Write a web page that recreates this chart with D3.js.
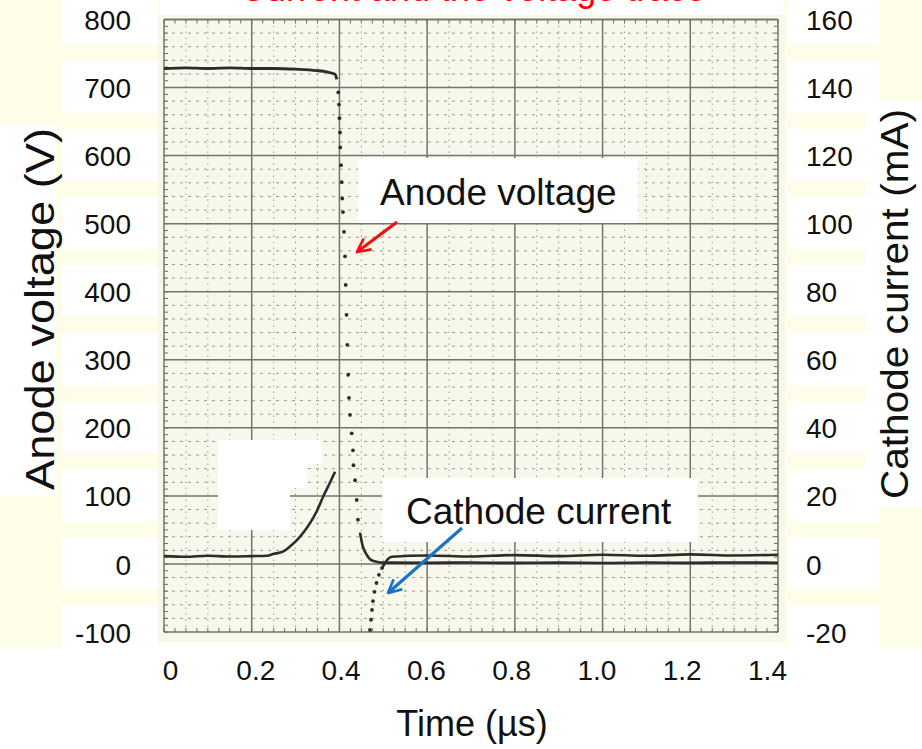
<!DOCTYPE html>
<html>
<head>
<meta charset="utf-8">
<script src="https://cdn.jsdelivr.net/npm/d3@7"></script>
<style>
  html, body { margin: 0; padding: 0; background: #ffffff; }
  svg { display: block; }
  text { font-family: "Liberation Sans", Arial, Helvetica, sans-serif; }
</style>
</head>
<body>
<svg id="chart" width="922" height="749"></svg>
<script>
// ---------- data ----------
const timeTicks = [0, 0.2, 0.4, 0.6, 0.8, 1.0, 1.2, 1.4];          // µs
const voltTicks = [-100, 0, 100, 200, 300, 400, 500, 600, 700, 800]; // V
const currTicks = [-20, 0, 20, 40, 60, 80, 100, 120, 140, 160];      // mA

// Anode voltage (V): flat top before switching
const anodeTop = [
  [0, 728], [0.05, 729], [0.1, 728], [0.15, 729], [0.2, 728], [0.25, 728],
  [0.3, 727], [0.348, 725], [0.371, 723], [0.390, 719.5], [0.394, 712]
];
// Anode voltage (V): fast fall, individual scope samples
const anodeFall = [
  [0.3974, 693], [0.3990, 675], [0.4001, 655], [0.4013, 634], [0.4020, 612],
  [0.4036, 586], [0.4052, 561], [0.4065, 537], [0.4081, 517], [0.4104, 488],
  [0.4127, 452], [0.4143, 410], [0.4161, 366], [0.4179, 322], [0.4200, 278],
  [0.4218, 244], [0.4241, 219], [0.4280, 192], [0.4309, 167], [0.4321, 145],
  [0.4355, 123], [0.4394, 94], [0.4423, 65]
];
// Anode voltage (V): settling tail and on-state level
const anodeTail = [
  [0.4469, 46], [0.4537, 25], [0.4606, 15], [0.4697, 7], [0.48, 4], [0.49, 2.5],
  [0.5, 2], [0.6, 1.6], [0.7, 2.2], [0.8, 1.5], [0.9, 2.0], [1.0, 1.4],
  [1.1, 2.1], [1.2, 1.6], [1.3, 2.2], [1.4, 1.8]
];

// Cathode current (mA): idle level and rise
const cathodeRise = [
  [0, 2.3], [0.05, 2.1], [0.1, 2.4], [0.15, 2.2], [0.2, 2.3], [0.235, 2.4],
  [0.249, 2.9], [0.271, 3.6], [0.287, 5.1], [0.303, 7.0], [0.317, 9.1],
  [0.333, 12.0], [0.348, 15.4], [0.363, 19.8], [0.378, 23.8], [0.390, 27.1]
];
// Cathode current (mA): recovery from negative overshoot, scope samples
const cathodeDip = [
  [0.4697, -19.4], [0.4720, -16.4], [0.4742, -13.5], [0.4765, -10.9],
  [0.4800, -8.2], [0.4845, -5.6], [0.4900, -3.2], [0.4970, -1.2]
];
// Cathode current (mA): after switching
const cathodeTail = [
  [0.497, -1.2], [0.504, 0.3], [0.511, 1.5], [0.52, 2.1], [0.6, 2.5], [0.7, 2.2],
  [0.8, 2.6], [0.9, 2.3], [1.0, 2.7], [1.1, 2.4], [1.2, 2.8], [1.3, 2.5], [1.4, 2.7]
];

// ---------- layout ----------
const svg = d3.select("#chart");
const W = 922, H = 749;
const plot = { left: 164, right: 778, top: 19.5, bottom: 632 };

const x = d3.scaleLinear().domain([0, 1.4]).range([plot.left, plot.right]);
const yV = d3.scaleLinear().domain([-100, 800]).range([plot.bottom, plot.top]);
const yI = d3.scaleLinear().domain([-20, 160]).range([plot.bottom, plot.top]);
// time labels are typed slightly inside the graticule
const xLab = d3.scaleLinear().domain([0, 1.4]).range([170, 767]);

const FONT = "'Liberation Sans', Arial, sans-serif";

// page background: pale slide colour with white label patches
svg.append("rect").attr("x", 0).attr("y", 0).attr("width", W).attr("height", H).attr("fill", "#ffffff");
svg.append("rect").attr("x", 0).attr("y", 0).attr("width", 160).attr("height", 648).attr("fill", "#fdfde8");
svg.append("rect").attr("x", 783).attr("y", 0).attr("width", 139).attr("height", 648).attr("fill", "#fdfde8");

// title (runs off the top edge of the slide)
svg.append("text")
  .attr("x", 240).attr("y", 1)
  .attr("font-size", 36).attr("fill", "#ff0000")
  .text("Current and the voltage trace");

// scanned graticule paper
svg.append("rect")
  .attr("x", 158).attr("y", 15).attr("width", 627).attr("height", 627)
  .attr("fill", "#f7f7eb");

const grid = svg.append("g");

// minor vertical lines every 0.05 µs
const minorT = d3.range(0, 1.4001, 0.05).filter(t => Math.abs(t / 0.2 - Math.round(t / 0.2)) > 1e-6);
grid.selectAll(".vmin").data(minorT).join("line")
  .attr("x1", d => x(d)).attr("x2", d => x(d))
  .attr("y1", plot.top).attr("y2", plot.bottom)
  .attr("stroke", "#9a9a90").attr("stroke-width", 1).attr("stroke-dasharray", "1.5 4.5");

// minor horizontal lines every 20 V
const minorV = d3.range(-100, 800.001, 20).filter(v => v % 100 !== 0);
grid.selectAll(".hmin").data(minorV).join("line")
  .attr("x1", plot.left).attr("x2", plot.right)
  .attr("y1", d => yV(d)).attr("y2", d => yV(d))
  .attr("stroke", "#9a9a90").attr("stroke-width", 1).attr("stroke-dasharray", "3 5");

// major lines
grid.selectAll(".vmaj").data(timeTicks).join("line")
  .attr("x1", d => x(d)).attr("x2", d => x(d))
  .attr("y1", plot.top).attr("y2", plot.bottom)
  .attr("stroke", "#74746f").attr("stroke-width", 1.5);
grid.selectAll(".hmaj").data(voltTicks.concat([800])).join("line")
  .attr("x1", plot.left).attr("x2", plot.right)
  .attr("y1", d => yV(d)).attr("y2", d => yV(d))
  .attr("stroke", "#74746f").attr("stroke-width", 1.5);

// border ticks
const edgeT = d3.range(0, 1.4001, 0.025);
const edgeV = d3.range(-100, 800.001, 10);
grid.selectAll(".tt").data(edgeT).join("line")
  .attr("x1", d => x(d)).attr("x2", d => x(d))
  .attr("y1", plot.top).attr("y2", plot.top + 4)
  .attr("stroke", "#6d6d68").attr("stroke-width", 1);
grid.selectAll(".tb").data(edgeT).join("line")
  .attr("x1", d => x(d)).attr("x2", d => x(d))
  .attr("y1", plot.bottom - 4).attr("y2", plot.bottom)
  .attr("stroke", "#6d6d68").attr("stroke-width", 1);
grid.selectAll(".tl").data(edgeV).join("line")
  .attr("x1", plot.left).attr("x2", plot.left + 4)
  .attr("y1", d => yV(d)).attr("y2", d => yV(d))
  .attr("stroke", "#6d6d68").attr("stroke-width", 1);
grid.selectAll(".tr").data(edgeV).join("line")
  .attr("x1", plot.right - 4).attr("x2", plot.right)
  .attr("y1", d => yV(d)).attr("y2", d => yV(d))
  .attr("stroke", "#6d6d68").attr("stroke-width", 1);

// ---------- traces ----------
svg.append("clipPath").attr("id", "clip").append("rect")
  .attr("x", plot.left).attr("y", plot.top)
  .attr("width", plot.right - plot.left).attr("height", plot.bottom - plot.top);
const traces = svg.append("g").attr("clip-path", "url(#clip)");
const ink = "#2c2c2a";

const lineV = d3.line().x(d => x(d[0])).y(d => yV(d[1])).curve(d3.curveMonotoneX);
const lineI = d3.line().x(d => x(d[0])).y(d => yI(d[1])).curve(d3.curveMonotoneX);

traces.append("path").datum(anodeTop).attr("d", lineV)
  .attr("fill", "none").attr("stroke", ink).attr("stroke-width", 2.8);
traces.selectAll(".af").data(anodeFall).join("circle")
  .attr("cx", d => x(d[0])).attr("cy", d => yV(d[1])).attr("r", 1.9).attr("fill", ink);
traces.append("path").datum(anodeTail).attr("d", lineV)
  .attr("fill", "none").attr("stroke", ink).attr("stroke-width", 2.6);

traces.append("path").datum(cathodeRise).attr("d", lineI)
  .attr("fill", "none").attr("stroke", ink).attr("stroke-width", 2.6);
traces.selectAll(".cd").data(cathodeDip).join("circle")
  .attr("cx", d => x(d[0])).attr("cy", d => yI(d[1])).attr("r", 1.9).attr("fill", ink);
traces.append("path").datum(cathodeTail).attr("d", lineI)
  .attr("fill", "none").attr("stroke", ink).attr("stroke-width", 2.6);

// white patches on the slide
const patches = [
  [218, 440, 104, 24], [218, 463, 89, 25], [218, 487, 72, 43]
];
svg.selectAll(".patch").data(patches).join("rect")
  .attr("x", d => d[0]).attr("y", d => d[1]).attr("width", d => d[2]).attr("height", d => d[3])
  .attr("fill", "#ffffff");

// ---------- axes ----------
const labelBox = (g, x0, w) => g.selectAll(".tick").insert("rect", "text")
  .attr("x", x0).attr("y", -27).attr("width", w).attr("height", 52).attr("fill", "#ffffff");

const axL = svg.append("g").attr("transform", "translate(160,0)")
  .call(d3.axisLeft(yV).tickValues(voltTicks).tickSize(0).tickPadding(29).tickFormat(d => String(d)));
axL.select(".domain").remove();
labelBox(axL, -98, 96);
axL.selectAll("text").attr("font-size", 28).attr("fill", "#111").attr("dy", "0.36em")
  .style("font-family", FONT);

const axR = svg.append("g").attr("transform", "translate(783,0)")
  .call(d3.axisRight(yI).tickValues(currTicks).tickSize(0).tickPadding(23).tickFormat(d => String(d)));
axR.select(".domain").remove();
labelBox(axR, 4, 92);
axR.selectAll("text").attr("font-size", 28).attr("fill", "#111").attr("dy", "0.36em")
  .style("font-family", FONT);

const axB = svg.append("g").attr("transform", "translate(0,648)")
  .call(d3.axisBottom(xLab).tickValues(timeTicks).tickSize(0).tickPadding(12)
    .tickFormat(d => d === 0 ? "0" : d3.format(".1f")(d)));
axB.select(".domain").remove();
axB.selectAll("text").attr("font-size", 28).attr("fill", "#111")
  .style("font-family", FONT);

// axis titles
svg.append("rect").attr("x", 0).attr("y", 124).attr("width", 56).attr("height", 372).attr("fill", "#ffffff");
svg.append("text")
  .attr("transform", "translate(54,309) rotate(-90)")
  .attr("text-anchor", "middle").attr("font-size", 40).attr("fill", "#111")
  .attr("textLength", 362).attr("lengthAdjust", "spacingAndGlyphs")
  .text("Anode voltage (V)");

svg.append("rect").attr("x", 866).attr("y", 100).attr("width", 56).attr("height", 408).attr("fill", "#ffffff");
svg.append("text")
  .attr("transform", "translate(908,304) rotate(-90)")
  .attr("text-anchor", "middle").attr("font-size", 38).attr("fill", "#111")
  .attr("textLength", 390).attr("lengthAdjust", "spacingAndGlyphs")
  .text("Cathode current (mA)");

svg.append("text")
  .attr("x", 472).attr("y", 736)
  .attr("text-anchor", "middle").attr("font-size", 36).attr("fill", "#111")
  .text("Time (\u00b5s)");

// ---------- annotations ----------
const defs = svg.append("defs");
function openHead(id, color) {
  defs.append("marker").attr("id", id)
    .attr("viewBox", "0 0 12 12").attr("refX", 11).attr("refY", 6)
    .attr("markerWidth", 5).attr("markerHeight", 5).attr("orient", "auto")
    .attr("markerUnits", "strokeWidth")
    .append("path").attr("d", "M1,1 L11,6 L1,11")
    .attr("fill", "none").attr("stroke", color).attr("stroke-width", 2);
}
openHead("headRed", "#ee1111");
openHead("headBlue", "#1874c8");

svg.append("rect").attr("x", 358).attr("y", 158).attr("width", 280).attr("height", 65).attr("fill", "#ffffff");
svg.append("text").attr("x", 380).attr("y", 205).attr("font-size", 37).attr("fill", "#111")
  .text("Anode voltage");
svg.append("line")
  .attr("x1", 397).attr("y1", 222).attr("x2", 357).attr("y2", 252)
  .attr("stroke", "#ee1111").attr("stroke-width", 3.2).attr("marker-end", "url(#headRed)");

svg.append("rect").attr("x", 382).attr("y", 478).attr("width", 316).attr("height", 64).attr("fill", "#ffffff");
svg.append("text").attr("x", 406).attr("y", 524).attr("font-size", 37).attr("fill", "#111")
  .text("Cathode current");
svg.append("line")
  .attr("x1", 462).attr("y1", 528).attr("x2", 388).attr("y2", 593)
  .attr("stroke", "#1874c8").attr("stroke-width", 3.2).attr("marker-end", "url(#headBlue)");
</script>
</body>
</html>
